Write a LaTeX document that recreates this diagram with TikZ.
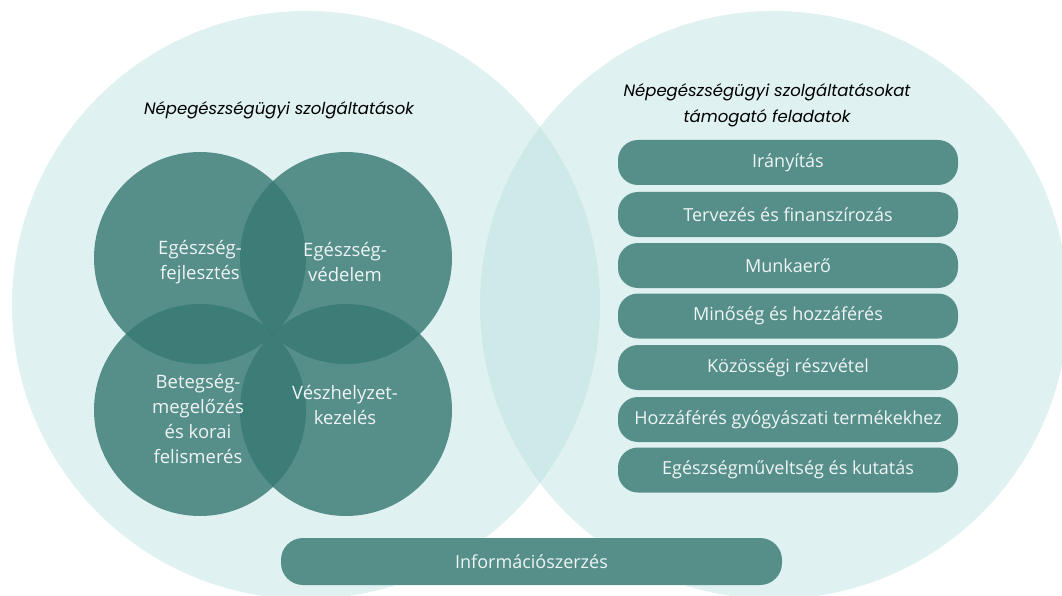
\documentclass[tikz,border=0pt]{standalone}
\usepackage{fontspec}
\setmainfont{Open Sans}
\newfontfamily\titlefont{Poppins}
\usepackage{xcolor}
\usepackage{tikz}

\definecolor{bgteal}{RGB}{182,223,221}
\definecolor{vennteal}{RGB}{56,121,116}
\definecolor{boxteal}{RGB}{86,143,138}
\definecolor{boxtext}{RGB}{238,245,244}

\begin{document}
\begin{tikzpicture}[x=1pt, y=-1pt]
	\useasboundingbox (0,0) rectangle (1062,596);
	
	% the two large circles
	\fill[bgteal, opacity=0.44] (306,305) circle (294);
	\fill[bgteal, opacity=0.44] (774,305) circle (294);
	
	\begin{scope}[
		vennc/.style={circle, fill=vennteal, fill opacity=0.82, minimum size=212pt, inner sep=0pt},
		venntext/.style={align=center, text=boxtext, font=\fontsize{18.5}{25}\selectfont},
		title/.style={align=center, font=\titlefont\itshape\fontsize{16.5}{26}\selectfont},
		task/.style={fill=boxteal, rounded corners=20pt, minimum width=340pt, minimum height=45pt, inner sep=0pt, text=boxtext, font=\fontsize{18}{20}\selectfont}]
		\node[vennc] (V1) at (200,258) {};
		\node[vennc] (V2) at (346,258) {};
		\node[vennc] (V3) at (200,410) {};
		\node[vennc] (V4) at (346,410) {};
		
		\node[venntext] (T1) at (200,262) {Egészség-\\fejlesztés};
		\node[venntext] (T2) at (345,262) {Egészség-\\védelem};
		\node[venntext] (T3) at (198,419) {Betegség-\\megelőzés\\és korai\\felismerés};
		\node[venntext] (T4) at (345,405) {Vészhelyzet-\\kezelés};
		
		\node[title] (H1) at (279,110) {Népegészségügyi szolgáltatások};
		\node[title] (H2) at (767,105) {Népegészségügyi szolgáltatásokat\\támogató feladatok};
		
		\node[task] (B1) at (788,162.5) {Irányítás};
		\node[task] (B2) at (788,214.5) {Tervezés és finanszírozás};
		\node[task] (B3) at (788,265.5) {Munkaerő};
		\node[task] (B4) at (788,316) {Minőség és hozzáférés};
		\node[task] (B5) at (788,367.5) {Közösségi részvétel};
		\node[task] (B6) at (788,419.5) {Hozzáférés gyógyászati termékekhez};
		\node[task] (B7) at (788,470) {Egészségműveltség és kutatás};
		
		\node[task, minimum width=501pt, minimum height=47pt, rounded corners=22pt] (B8) at (531.5,561.5) {Információszerzés};
	\end{scope}
\end{tikzpicture}
\end{document}
